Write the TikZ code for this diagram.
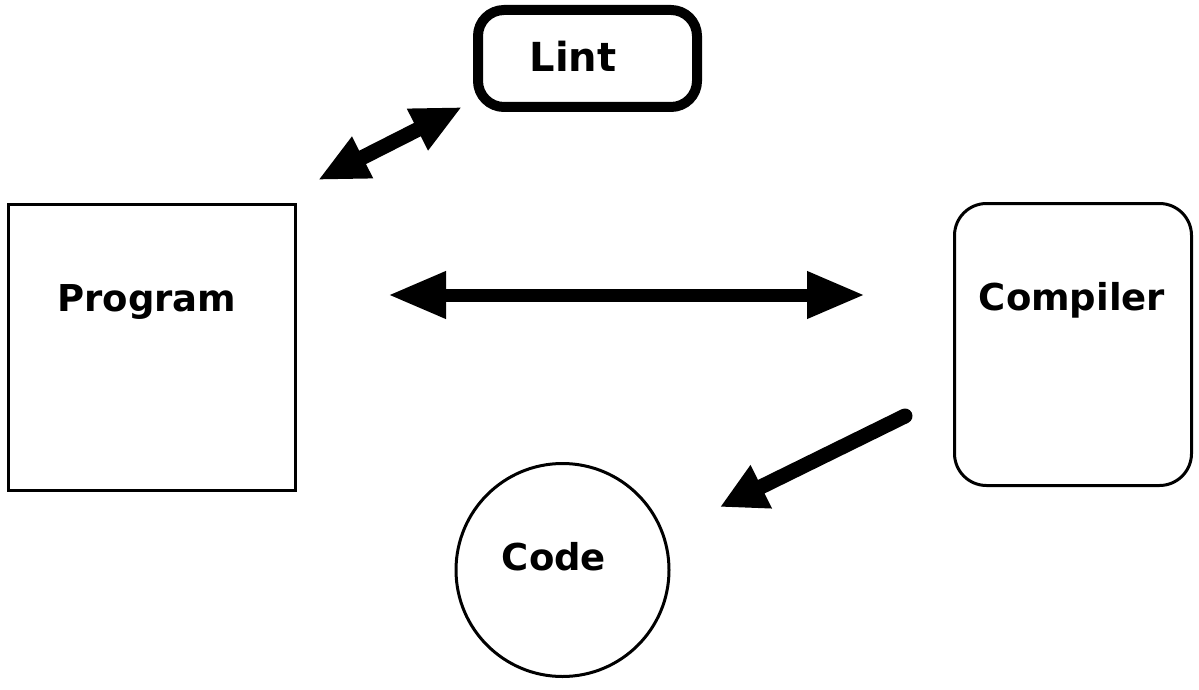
\documentclass[tikz,border=0pt]{standalone}
\usepackage{fontspec}
\newfontfamily\lblfont{DejaVu Sans}
\usetikzlibrary{arrows.meta}
\begin{document}
\begin{tikzpicture}[x=1pt,y=1pt,
  lbl/.style={font=\lblfont\bfseries\fontsize{37}{40}\selectfont, inner sep=0pt, anchor=base},
  boxthin/.style={draw, line width=3pt, inner sep=0pt},
]
\useasboundingbox (0,0) rectangle (1199,-690);

% shapes
\node[boxthin, minimum width=287pt, minimum height=286pt] (prog) at (152,-347.5) {};
\node[boxthin, rounded corners=32pt, minimum width=237pt, minimum height=282pt] (comp) at (1073,-344.5) {};
\node[draw, line width=10pt, rounded corners=26pt, inner sep=0pt, minimum width=219pt, minimum height=97pt] (lint) at (587.5,-58.5) {};
\node[draw, circle, line width=3pt, inner sep=0pt, minimum size=213pt] (code) at (562.5,-570) {};

% labels
\node[lbl] (progt) at (147,-311) {Program};
\node[lbl] (compt) at (1072,-310) {Compiler};
\node[lbl, font=\lblfont\bfseries\fontsize{40}{44}\selectfont] (lintt) at (573,-72) {Lint};
\node[lbl] (codet) at (554,-570) {Code};

% connectors
\coordinate (la) at (318,-180);
\coordinate (lb) at (462,-107);
\draw[line width=15pt, {Triangle[length=50pt,width=43pt]}-{Triangle[length=50pt,width=43pt]}] (la) -- (lb);

\coordinate (ha) at (388,-295);
\coordinate (hb) at (865,-295);
\draw[line width=13pt, {Triangle[length=58pt,width=44pt]}-{Triangle[length=58pt,width=44pt]}] (ha) -- (hb);

\coordinate (ca) at (905,-416);
\coordinate (cb) at (720,-507);
\draw[line width=15pt, line cap=round, -{Triangle[length=46pt,width=45pt]}] (ca) -- (cb);
\end{tikzpicture}
\end{document}
